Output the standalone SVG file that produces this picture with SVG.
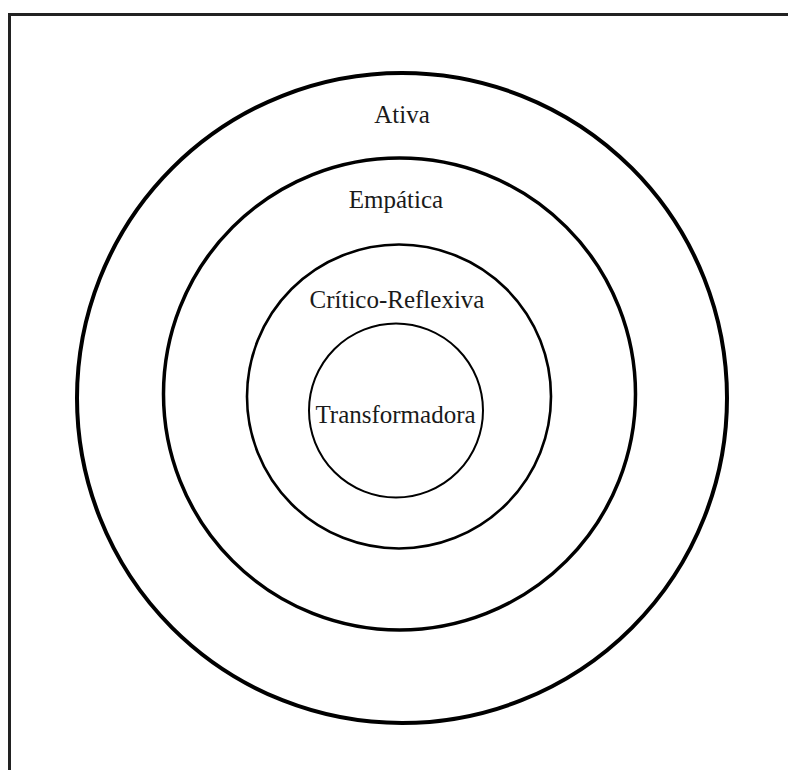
<svg xmlns="http://www.w3.org/2000/svg" width="788" height="770" viewBox="0 0 788 770">
  <style>
    .ring { fill: none; stroke: #000; }
    .label { font-family: "Liberation Serif", "Times New Roman", serif; font-size: 25px; fill: #1a1a1a; text-anchor: middle; }
  </style>
  <rect width="788" height="770" fill="#fff"/>
  <!-- frame: left and top edges -->
  <path d="M9.5,770 V14.5 H788" fill="none" stroke="#222" stroke-width="3"/>
  <g id="ativa">
    <circle class="ring" cx="402" cy="398" r="325" stroke-width="4"/>
    <text class="label" x="402" y="123">Ativa</text>
  </g>
  <g id="empatica">
    <circle class="ring" cx="399.5" cy="394" r="236" stroke-width="3.5"/>
    <text class="label" x="396" y="208">Empática</text>
  </g>
  <g id="critico-reflexiva">
    <circle class="ring" cx="399" cy="396.5" r="152" stroke-width="2.6"/>
    <text class="label" x="397" y="308">Crítico-Reflexiva</text>
  </g>
  <g id="transformadora">
    <circle class="ring" cx="396" cy="410.5" r="87" stroke-width="2"/>
    <text class="label" x="395.5" y="423">Transformadora</text>
  </g>
  <g id="connectors"/>
</svg>
